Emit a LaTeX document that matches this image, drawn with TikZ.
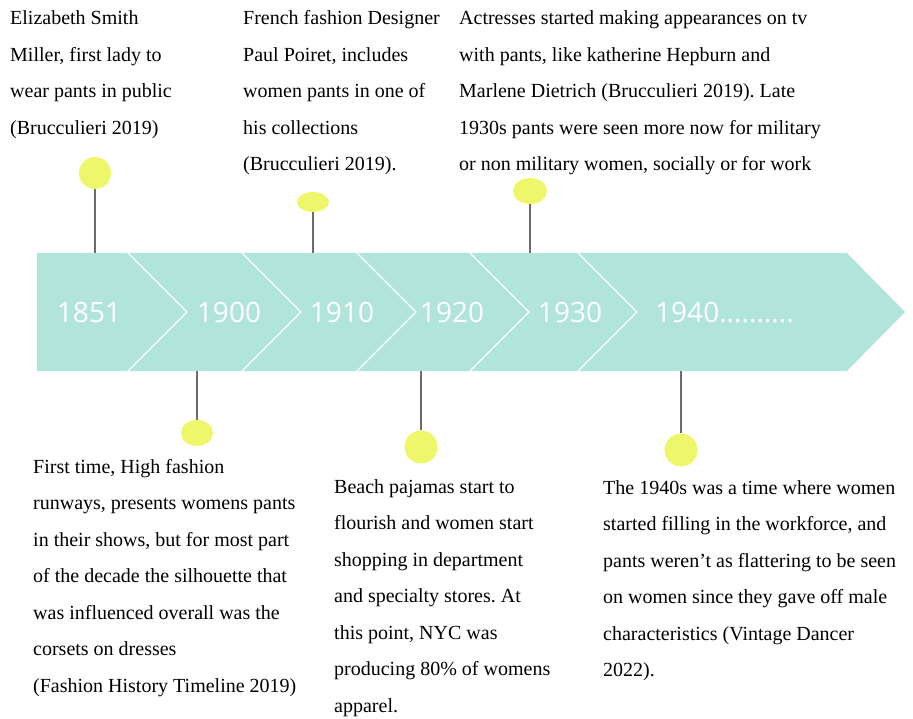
\documentclass[tikz,border=0pt]{standalone}
\usepackage{fontspec}
\setmainfont{Liberation Serif}
\newfontfamily\yearfont{Open Sans}
\usetikzlibrary{shapes.geometric}
\frenchspacing

\definecolor{bandteal}{HTML}{B1E4DA}
\definecolor{dotyellow}{HTML}{EEF66A}
\definecolor{stemgray}{HTML}{6E6A66}

\tikzset{
  dot/.style={ellipse, fill=dotyellow, inner sep=0pt},
  stem/.style={stemgray, line width=1.5pt},
  year/.style={text=white, inner sep=0pt, font=\yearfont\fontsize{28}{30}\selectfont},
  note/.style={align=left, anchor=base west, inner sep=0pt, font=\fontsize{20}{36.5}\selectfont}
}

\begin{document}
\begin{tikzpicture}[x=1pt,y=-1pt]
    \useasboundingbox (0,0) rectangle (913,719);

    % Draw the arrow band
    \fill[bandteal] (37,253) -- (847,253) -- (905,312) -- (847,371) -- (37,371) -- cycle;

    % Draw the chevron dividers
    \foreach \cx in {128,242,357,470,578}
        \draw[white, line width=1.2pt] (\cx,253) -- ++(59,59) -- ++(-59,59);

    % Add the years
    \node[year, anchor=base] (y1851) at (89,323) {1851};
    \node[year, anchor=base] (y1900) at (229,323) {1900};
    \node[year, anchor=base] (y1910) at (342,323) {1910};
    \node[year, anchor=base] (y1920) at (452,323) {1920};
    \node[year, anchor=base] (y1930) at (570,323) {1930};
    \node[year, anchor=base west] (y1940) at (655,323) {1940..........};

    % Define the points where the stems meet the band
    \coordinate (t1851) at (95,253);
    \coordinate (t1900) at (197,371);
    \coordinate (t1910) at (313,253);
    \coordinate (t1920) at (421,371);
    \coordinate (t1930) at (530,253);
    \coordinate (t1940) at (681,371);

    % Draw the dots
    \node[dot, minimum width=32pt, minimum height=32pt] (d1851) at (95,173) {};
    \node[dot, minimum width=32pt, minimum height=26pt] (d1900) at (197,433) {};
    \node[dot, minimum width=32pt, minimum height=20pt] (d1910) at (313,202) {};
    \node[dot, minimum width=33pt, minimum height=33pt] (d1920) at (421,447) {};
    \node[dot, minimum width=34pt, minimum height=26pt] (d1930) at (530,191) {};
    \node[dot, minimum width=33pt, minimum height=33pt] (d1940) at (681,450) {};

    % Draw the stems
    \foreach \yr in {1851,1900,1910,1920,1930,1940}
        \draw[stem] (d\yr) -- (t\yr);

    % Add the notes above the band (placed at the baseline of their last line)
    \node[note] (n1851) at (10,134.5) {Elizabeth Smith\\Miller, first lady to\\wear pants in public\\(Brucculieri 2019)};
    \node[note] (n1910) at (243,171) {French fashion Designer\\Paul Poiret, includes\\women pants in one of\\his collections\\(Brucculieri 2019).};
    \node[note] (n1930) at (459,171) {Actresses started making appearances on tv\\with pants, like katherine Hepburn and\\Marlene Dietrich (Brucculieri 2019). Late\\1930s pants were seen more now for military\\or non military women, socially or for work};

    % Add the notes below the band
    \node[note] (n1900) at (33,692) {First time, High fashion\\runways, presents womens pants\\in their shows, but for most part\\of the decade the silhouette that\\was influenced overall was the\\corsets on dresses\\(Fashion History Timeline 2019)};
    \node[note] (n1920) at (334,712) {Beach pajamas start to\\flourish and women start\\shopping in department\\and specialty stores. At\\this point, NYC was\\producing 80\% of womens\\apparel.};
    \node[note] (n1940) at (603,676.5) {The 1940s was a time where women\\started filling in the workforce, and\\pants weren’t as flattering to be seen\\on women since they gave off male\\characteristics (Vintage Dancer\\2022).};

\end{tikzpicture}
\end{document}
